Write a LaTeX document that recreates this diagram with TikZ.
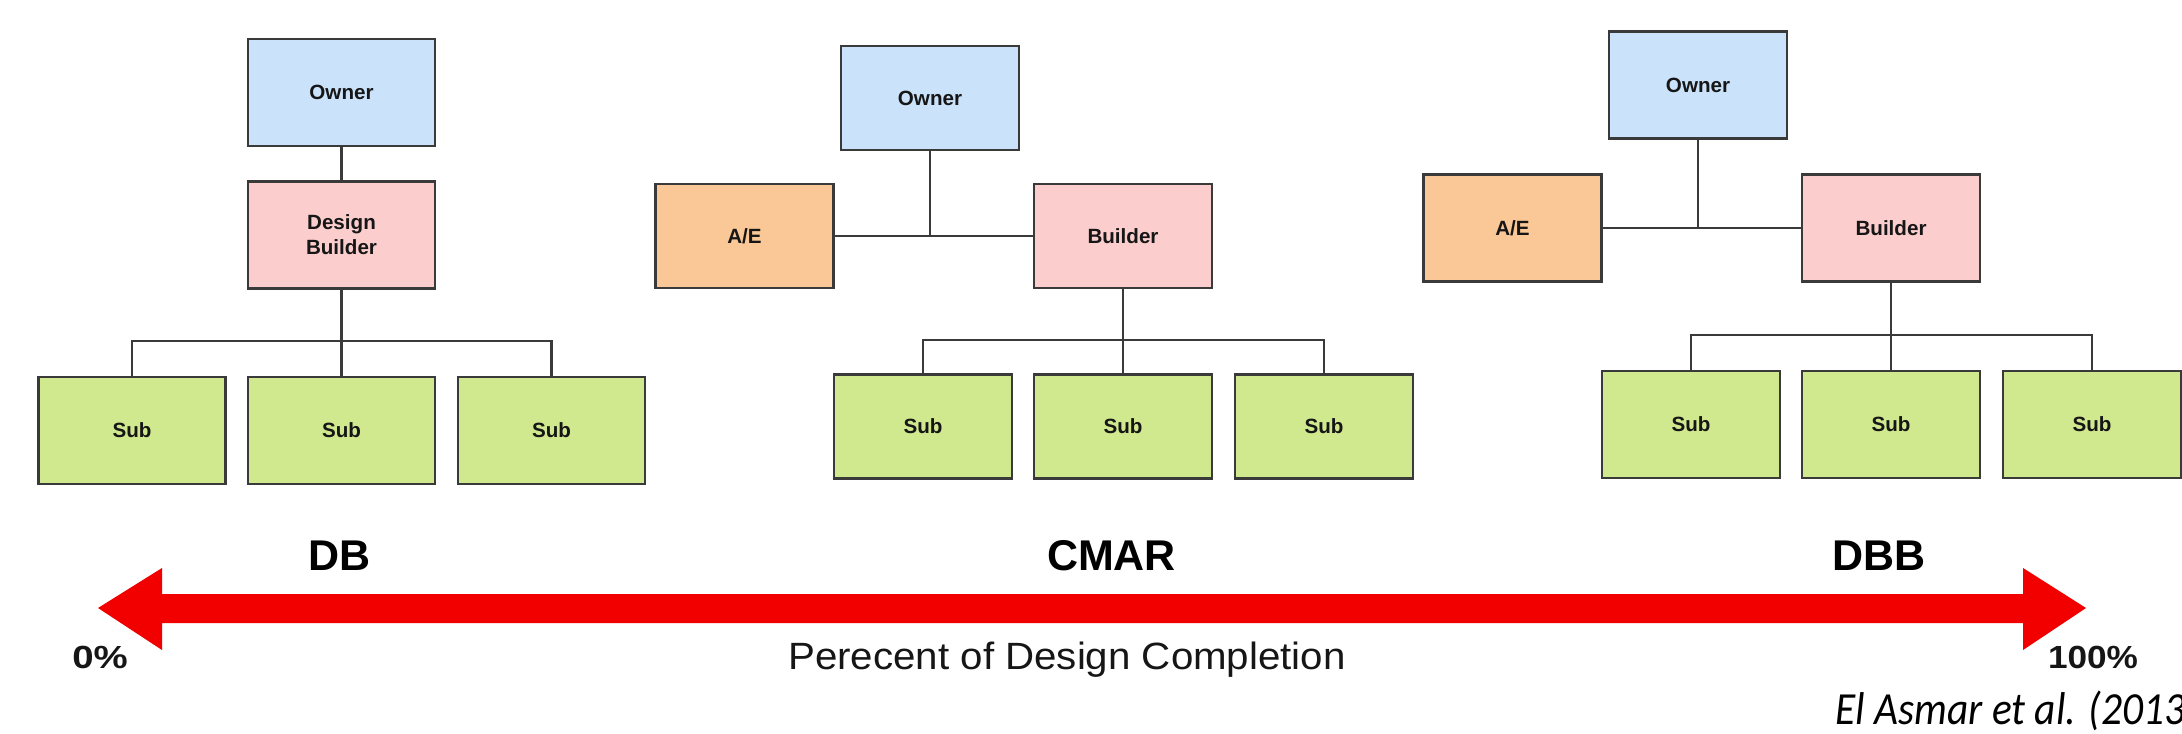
\documentclass[tikz,border=0pt]{standalone}
\usepackage{fontspec}
\usepackage{graphicx}
\setmainfont{Liberation Sans}
\newfontfamily\citefont{Carlito}
\definecolor{ownerblue}{RGB}{203,227,250}
\definecolor{builderpink}{RGB}{251,205,205}
\definecolor{aeorange}{RGB}{250,200,150}
\definecolor{subgreen}{RGB}{208,232,142}
\definecolor{boxline}{RGB}{58,58,58}
\definecolor{arrowred}{RGB}{242,0,0}
\definecolor{labeltext}{RGB}{22,22,22}
\tikzset{
  box/.style={draw=boxline, line width=1.1pt, inner sep=0pt, align=center,
    text=labeltext, font=\fontsize{10.3}{12.5}\selectfont\bfseries},
  bigbox/.style={box, minimum width=93.5pt, minimum height=53.5pt},
  smallbox/.style={box, minimum width=89pt, minimum height=52pt},
  tallbox/.style={box, minimum width=89pt, minimum height=53.5pt},
  link/.style={draw=boxline, line width=1.1pt},
  method/.style={anchor=base, font=\fontsize{21.5}{25}\selectfont\bfseries},
  pct/.style={anchor=base, font=\fontsize{16}{18}\selectfont\bfseries, text=labeltext},
}
\begin{document}
\begin{tikzpicture}[x=0.5pt, y=-0.5pt]
\useasboundingbox (0,0) rectangle (2182,733);
% ---------- DB ----------
\node[bigbox, fill=ownerblue] (dbO) at (341.5,92.5) {Owner};
\node[bigbox, fill=builderpink] (dbB) at (341.5,235) {Design\\Builder};
\node[bigbox, fill=subgreen] (dbS1) at (132,430.5) {Sub};
\node[bigbox, fill=subgreen] (dbS2) at (341.5,430.5) {Sub};
\node[bigbox, fill=subgreen] (dbS3) at (551.5,430.5) {Sub};
\coordinate (dbBus) at (341.5,341);
\draw[link] (dbO.south) -- (dbB.north);
\draw[link] (dbB.south) -- (dbS2.north);
\draw[link] (dbS1.north) -- (dbS1.north |- dbBus) -- (dbS3.north |- dbBus) -- (dbS3.north);
% ---------- CMAR ----------
\node[smallbox, fill=ownerblue] (cmO) at (930,98) {Owner};
\node[smallbox, fill=aeorange] (cmA) at (744.5,236) {A/E};
\node[smallbox, fill=builderpink] (cmB) at (1123,236) {Builder};
\node[smallbox, fill=subgreen] (cmS1) at (923,426.5) {Sub};
\node[smallbox, fill=subgreen] (cmS2) at (1123,426.5) {Sub};
\node[smallbox, fill=subgreen] (cmS3) at (1324,426.5) {Sub};
\coordinate (cmBus) at (1123,340);
\draw[link] (cmA.east) -- (cmB.west);
\draw[link] (cmO.south) -- (cmO.south |- cmA.east);
\draw[link] (cmB.south) -- (cmS2.north);
\draw[link] (cmS1.north) -- (cmS1.north |- cmBus) -- (cmS3.north |- cmBus) -- (cmS3.north);
% ---------- DBB ----------
\node[tallbox, fill=ownerblue] (bbO) at (1698,85) {Owner};
\node[tallbox, fill=aeorange] (bbA) at (1512.5,228) {A/E};
\node[tallbox, fill=builderpink] (bbB) at (1891,228) {Builder};
\node[tallbox, fill=subgreen] (bbS1) at (1691,424.5) {Sub};
\node[tallbox, fill=subgreen] (bbS2) at (1891,424.5) {Sub};
\node[tallbox, fill=subgreen] (bbS3) at (2092,424.5) {Sub};
\coordinate (bbBus) at (1891,335);
\draw[link] (bbA.east) -- (bbB.west);
\draw[link] (bbO.south) -- (bbO.south |- bbA.east);
\draw[link] (bbB.south) -- (bbS2.north);
\draw[link] (bbS1.north) -- (bbS1.north |- bbBus) -- (bbS3.north |- bbBus) -- (bbS3.north);
% ---------- method labels ----------
\node[method] (lblDB) at (340,570) {DB};
\node[method] (lblCMAR) at (1111.5,570) {CMAR};
\node[method] (lblDBB) at (1879,570) {DBB};
% ---------- double arrow ----------
\fill[arrowred] (98,608) -- (162,568) -- (162,594) -- (2023,594) -- (2023,568)
  -- (2086,608) -- (2023,650) -- (2023,623) -- (162,623) -- (162,650) -- cycle;
% ---------- scale labels ----------
\node[pct] (lbl0) at (100,668) {\scalebox{1.2}[1]{0\%}};
\node[pct] (lbl100) at (2093,668) {\scalebox{1.1}[1]{100\%}};
\node[anchor=base, font=\fontsize{19}{22}\selectfont, text=labeltext] (lblAxis) at (1067,669)
  {\scalebox{1.06}[1]{Perecent of Design Completion}};
\node[anchor=base west, inner sep=0pt, font=\citefont\itshape\fontsize{23}{27}\selectfont] (cite) at (1835,724)
  {\scalebox{0.9}[1]{El Asmar et al. (2013}};
\end{tikzpicture}
\end{document}
